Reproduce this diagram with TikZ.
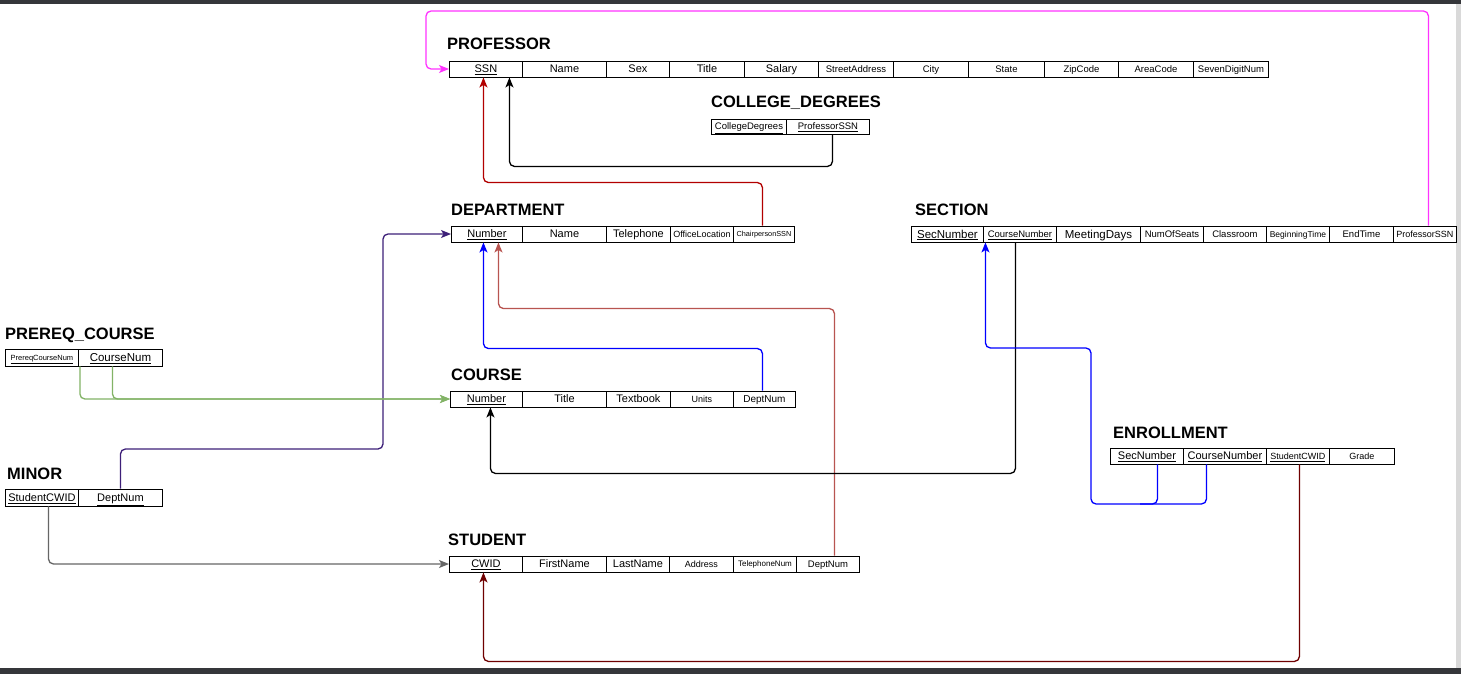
\documentclass[tikz,border=0pt]{standalone}
\usepackage{fontspec}
\setmainfont{Liberation Sans}
\usetikzlibrary{arrows.meta}
\definecolor{frame}{HTML}{35363A}
\definecolor{linkmagenta}{HTML}{FF33FF}
\definecolor{linkred}{HTML}{B20000}
\definecolor{linkblue}{HTML}{0000FF}
\definecolor{linkrose}{HTML}{B85450}
\definecolor{linkgreen}{HTML}{82B366}
\definecolor{linkpurple}{HTML}{3D1F78}
\definecolor{linkgray}{HTML}{666666}
\definecolor{linkmaroon}{HTML}{6F0000}
\newcommand{\fs}[1]{\fontsize{#1}{#1}\selectfont}
\tikzset{
  cell/.style={draw, line width=0.9pt, inner sep=0pt, minimum height=16pt, anchor=west, font=\fs{11},
    text depth=0pt, execute at begin node=\vphantom{A}},
  tabletitle/.style={anchor=base west, inner sep=0pt, font=\fs{16.5}\bfseries},
  fk/.style={line width=1.3pt, rounded corners=5pt, -{Stealth[length=10pt,width=8pt,inset=2.5pt]}},
  fkline/.style={line width=1.3pt, rounded corners=5pt},
}
\begin{document}
\begin{tikzpicture}[x=1pt, y=-1pt]
    \useasboundingbox (0,0) rectangle (1461,674);
    \fill[white] (0,0) rectangle (1461,674);
    % page frame
    \fill[frame] (0,0) rectangle (1461,4);
    \fill[frame] (0,668) rectangle (1461,674);
    \fill[gray!30] (1456,4) rectangle (1461,668);

    % PROFESSOR
    \node[tabletitle] (prof) at (447,50) {PROFESSOR};
    \node[cell, minimum width=73pt] (prof-ssn) at (449,69) {\underline{SSN}};
    \node[cell, minimum width=84pt] (prof-name) at (522,69) {Name};
    \node[cell, minimum width=63pt] (prof-sex) at (606,69) {Sex};
    \node[cell, minimum width=75pt] (prof-title) at (669,69) {Title};
    \node[cell, minimum width=74pt] (prof-salary) at (744,69) {Salary};
    \node[cell, minimum width=75pt, font=\fs{9.5}] (prof-street) at (818,69) {StreetAddress};
    \node[cell, minimum width=75pt, font=\fs{9.5}] (prof-city) at (893,69) {City};
    \node[cell, minimum width=76pt, font=\fs{9.5}] (prof-state) at (968,69) {State};
    \node[cell, minimum width=74pt, font=\fs{9.5}] (prof-zip) at (1044,69) {ZipCode};
    \node[cell, minimum width=75pt, font=\fs{9.5}] (prof-area) at (1118,69) {AreaCode};
    \node[cell, minimum width=75pt, font=\fs{9.5}] (prof-seven) at (1193,69) {SevenDigitNum};

    % COLLEGE_DEGREES
    \node[tabletitle] (cd) at (711,108) {COLLEGE\_DEGREES};
    \node[cell, minimum width=75pt, minimum height=15pt, font=\fs{9.5}] (cd-deg) at (711,126.5) {\underline{CollegeDegrees}};
    \node[cell, minimum width=83pt, minimum height=15pt, font=\fs{9.5}] (cd-prof) at (786,126.5) {\underline{ProfessorSSN}};

    % DEPARTMENT
    \node[tabletitle] (dept) at (451,215) {DEPARTMENT};
    \node[cell, minimum width=71pt] (dept-num) at (451,234) {\underline{Number}};
    \node[cell, minimum width=84pt] (dept-name) at (522,234) {Name};
    \node[cell, minimum width=64pt] (dept-tel) at (606,234) {Telephone};
    \node[cell, minimum width=63pt, font=\fs{9}] (dept-office) at (670,234) {OfficeLocation};
    \node[cell, minimum width=61pt, font=\fs{7.3}] (dept-chair) at (733,234) {ChairpersonSSN};

    % SECTION
    \node[tabletitle] (sec) at (915,215) {SECTION};
    \node[cell, minimum width=72pt, font=\fs{11.5}] (sec-num) at (911,234) {\underline{SecNumber}};
    \node[cell, minimum width=73pt, font=\fs{9.5}] (sec-cn) at (983,234) {\underline{CourseNumber}};
    \node[cell, minimum width=84pt, font=\fs{11.5}] (sec-days) at (1056,234) {MeetingDays};
    \node[cell, minimum width=63pt, font=\fs{9.5}] (sec-seats) at (1140,234) {NumOfSeats};
    \node[cell, minimum width=63pt, font=\fs{9.5}] (sec-room) at (1203,234) {Classroom};
    \node[cell, minimum width=63pt, font=\fs{8.5}] (sec-begin) at (1266,234) {BeginningTime};
    \node[cell, minimum width=64pt, font=\fs{9.5}] (sec-end) at (1329,234) {EndTime};
    \node[cell, minimum width=63pt, font=\fs{9}] (sec-prof) at (1393,234) {ProfessorSSN};

    % PREREQ_COURSE
    \node[tabletitle] (pre) at (5,339) {PREREQ\_COURSE};
    \node[cell, minimum width=73pt, minimum height=17pt, font=\fs{7.5}] (pre-pcn) at (5,357.5) {\underline{PrereqCourseNum}};
    \node[cell, minimum width=84pt, minimum height=17pt, font=\fs{11.5}] (pre-cn) at (78,357.5) {\underline{CourseNum}};

    % COURSE
    \node[tabletitle] (course) at (451,380) {COURSE};
    \node[cell, minimum width=72pt] (course-num) at (450,399) {\underline{Number}};
    \node[cell, minimum width=84pt] (course-title) at (522,399) {Title};
    \node[cell, minimum width=64pt] (course-book) at (606,399) {Textbook};
    \node[cell, minimum width=63pt, font=\fs{9}] (course-units) at (670,399) {Units};
    \node[cell, minimum width=62pt, font=\fs{10}] (course-dept) at (733,399) {DeptNum};

    % MINOR
    \node[tabletitle] (minor) at (7,479) {MINOR};
    \node[cell, minimum width=73pt, minimum height=17pt, font=\fs{11}] (minor-cwid) at (5,497.5) {\underline{StudentCWID}};
    \node[cell, minimum width=84pt, minimum height=17pt] (minor-dept) at (78,497.5) {\underline{DeptNum}};

    % ENROLLMENT
    \node[tabletitle] (enr) at (1113,438) {ENROLLMENT};
    \node[cell, minimum width=73pt] (enr-sec) at (1110,456) {\underline{SecNumber}};
    \node[cell, minimum width=83pt] (enr-cn) at (1183,456) {\underline{CourseNumber}};
    \node[cell, minimum width=63pt, font=\fs{9}] (enr-cwid) at (1266,456) {\underline{StudentCWID}};
    \node[cell, minimum width=65pt, font=\fs{9}] (enr-grade) at (1329,456) {Grade};

    % STUDENT
    \node[tabletitle] (stu) at (448,545) {STUDENT};
    \node[cell, minimum width=73pt] (stu-cwid) at (449,564) {\underline{CWID}};
    \node[cell, minimum width=84pt] (stu-first) at (522,564) {FirstName};
    \node[cell, minimum width=63pt] (stu-last) at (606,564) {LastName};
    \node[cell, minimum width=64pt, font=\fs{9}] (stu-addr) at (669,564) {Address};
    \node[cell, minimum width=63pt, font=\fs{8}] (stu-tel) at (733,564) {TelephoneNum};
    \node[cell, minimum width=63pt, font=\fs{9.5}] (stu-dept) at (796,564) {DeptNum};

    % Foreign keys
    \draw[fk, linkmagenta] ([xshift=3.5pt]sec-prof.north) |- (426,11) |- (prof-ssn.west);
    \draw[fk, linkred] ([xshift=-1.5pt]dept-chair.north) -- ++(0,-43) -| ([xshift=-2.5pt]prof-ssn.south);
    \draw[fk, black] ([xshift=4.5pt]cd-prof.south) -- ++(0,32) -| ([xshift=23.5pt]prof-ssn.south);
    \draw[fk, linkblue] ([xshift=-2pt]course-dept.north) -- ++(0,-42) -| ([xshift=-3.5pt]dept-num.south);
    \draw[fk, linkrose] ([xshift=6.5pt]stu-dept.north) -- ++(0,-247) -| ([xshift=11.5pt]dept-num.south);
    \draw[fk, linkpurple] (minor-dept.north) |- (383,449) |- (dept-num.west);
    \draw[fk, linkgreen] ([xshift=1pt]pre-pcn.south east) |- (course-num.west);
    \draw[fk, linkgreen] ([xshift=-8pt]pre-cn.south) |- (course-num.west);
    \draw[fk, black] ([xshift=-4.5pt]sec-cn.south) -- ++(0,231) -| ([xshift=4pt]course-num.south);
    \draw[fk, linkblue] ([xshift=10.5pt]enr-sec.south) |- (1091,504) -- (1091,348) -| ([xshift=-34.5pt]sec-cn.south);
    \draw[fkline, linkblue] ([xshift=-18.5pt]enr-cn.south) |- (1140,504);
    \draw[fk, linkmaroon] ([xshift=1.5pt]enr-cwid.south) -- ++(0,197) -| ([xshift=-2.5pt]stu-cwid.south);
    \draw[fk, linkgray] ([xshift=6.5pt]minor-cwid.south) |- (stu-cwid.west);
\end{tikzpicture}
\end{document}
